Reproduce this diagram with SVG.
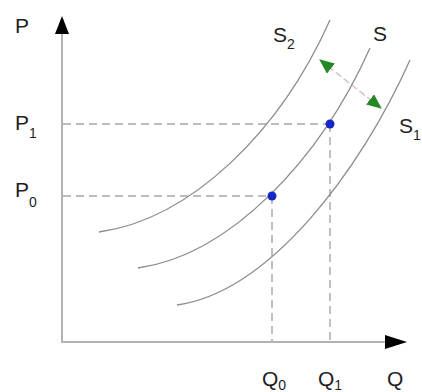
<svg xmlns="http://www.w3.org/2000/svg" width="422" height="392" viewBox="0 0 422 392">
<defs>
<style>
.axis{stroke:#b3b3b3;stroke-width:2;fill:none}
.dash{stroke:#a6a6a6;stroke-width:1.4;fill:none;stroke-dasharray:8 5}
.curve{stroke:#8c8c8c;stroke-width:1.3;fill:none}
.shift{stroke:#dcc4d0;stroke-width:1.6;fill:none;stroke-dasharray:7 3}
.lbl{font-family:"Liberation Sans",Arial,sans-serif;font-size:21px;fill:#1e1e1e}
.sub{font-size:14px}
.dot{fill:#1428c8}
</style>
<marker id="ga" viewBox="0 0 14 12" refX="13" refY="6" markerWidth="15" markerHeight="13" markerUnits="userSpaceOnUse" orient="auto-start-reverse">
<path d="M0,0 L14,6 L0,12 z" fill="#238a23"/>
</marker>
</defs>
<rect width="422" height="392" fill="#ffffff"/>
<g id="connectors">
<line class="axis" x1="62" y1="342" x2="62" y2="32"/>
<path d="M62,16 L69,34 L55,34 z" fill="#000"/>
<line class="axis" x1="61" y1="342" x2="388" y2="342"/>
<path d="M407,342 L385,335 L385,349 z" fill="#000"/>
<line class="dash" x1="63" y1="124" x2="330" y2="124"/>
<line class="dash" x1="63" y1="196" x2="272" y2="196"/>
<line class="dash" x1="272" y1="196" x2="272" y2="341"/>
<line class="dash" x1="330" y1="124" x2="330" y2="341"/>
<line class="shift" x1="320" y1="60" x2="381" y2="108" marker-start="url(#ga)" marker-end="url(#ga)"/>
</g>
<g id="S2"><path class="curve" d="M99,232 C191,219 280,132 330,20"/><text class="lbl" x="273" y="42">S<tspan class="sub" dy="7">2</tspan></text></g>
<g id="S"><path class="curve" d="M138,268 C230,255 320,160 370,48"/><text class="lbl" x="373" y="41">S</text></g>
<g id="S1"><path class="curve" d="M177,305 C269,292 360,172 410,60"/><text class="lbl" x="399" y="133">S<tspan class="sub" dy="7">1</tspan></text></g>
<g id="axisP"><text class="lbl" x="15" y="33">P</text></g>
<g id="axisQ"><text class="lbl" x="387" y="386">Q</text></g>
<g id="P1"><text class="lbl" x="15" y="130">P<tspan class="sub" dy="8">1</tspan></text></g>
<g id="P0"><text class="lbl" x="15" y="197">P<tspan class="sub" dy="10">0</tspan></text></g>
<g id="Q1"><text class="lbl" x="318" y="386">Q<tspan class="sub" dy="4">1</tspan></text></g>
<g id="Q0"><text class="lbl" x="262" y="386">Q<tspan class="sub" dy="4">0</tspan></text></g>
<g id="E1"><circle class="dot" cx="330" cy="124" r="4.5"/></g>
<g id="E0"><circle class="dot" cx="272" cy="196" r="4.5"/></g>
</svg>
